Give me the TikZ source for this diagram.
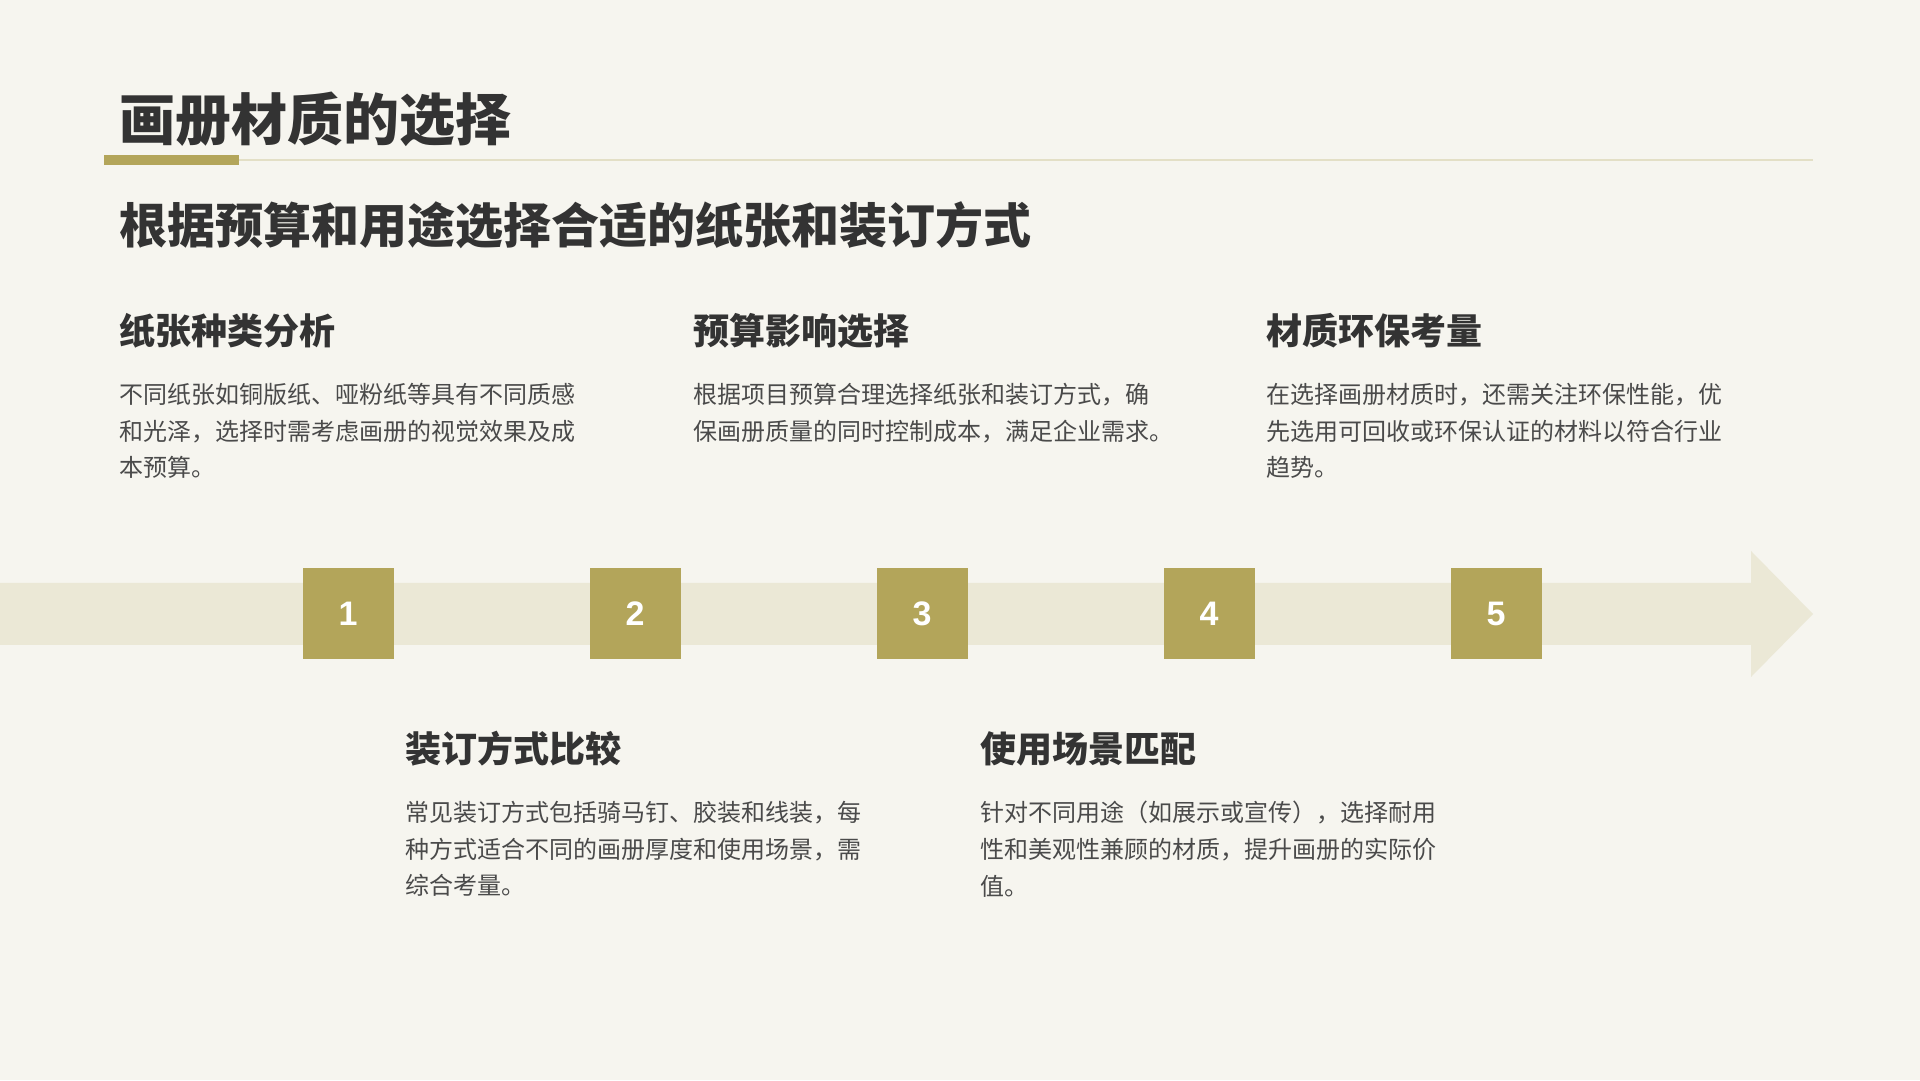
\documentclass[tikz,border=0pt]{standalone}
\usepackage{fontspec}
\usepackage{xcolor}
\usetikzlibrary{positioning}
\newfontfamily\cjk{Noto Sans CJK SC}
\newfontfamily\numfont{Liberation Sans}
\definecolor{bgcream}{HTML}{F6F5EF}
\definecolor{bandbeige}{HTML}{EBE8D6}
\definecolor{boxgold}{HTML}{B3A55A}
\definecolor{rulebeige}{HTML}{E3DFC6}
\definecolor{darktext}{HTML}{333333}
\definecolor{bodygray}{HTML}{4A4A4A}

\begin{document}
\begin{tikzpicture}[x=1pt, y=1pt, node distance=287pt, on grid,
    numbox/.style={rectangle, fill=boxgold, minimum size=91pt, inner sep=0pt, text=white, font=\numfont\bfseries\fontsize{34}{34}\selectfont},
    headtext/.style={anchor=west, inner sep=0pt, text=darktext, font=\cjk\bfseries\fontsize{36}{40}\selectfont},
    bodytext/.style={anchor=north west, inner sep=0pt, align=left, text=bodygray, font=\cjk\fontsize{24}{36.7}\selectfont}]

    \fill[bgcream] (0,0) rectangle (1920,1080);
    \useasboundingbox (0,0) rectangle (1920,1080);

    % title block
    \node[anchor=west, inner sep=0pt, text=darktext, font=\cjk\bfseries\fontsize{56}{60}\selectfont] (title) at (119,961) {画册材质的选择};
    \fill[boxgold] (104,915) rectangle (239,925);
    \draw[rulebeige, line width=1.5pt] (239,920) -- (1813,920);
    \node[anchor=west, inner sep=0pt, text=darktext, font=\cjk\bfseries\fontsize{48}{52}\selectfont] (subtitle) at (119,855) {根据预算和用途选择合适的纸张和装订方式};

    % timeline band
    \fill[bandbeige] (0,435) -- (1751,435) -- (1751,403) -- (1813,466) -- (1751,529) -- (1751,497) -- (0,497) -- cycle;

    \node[numbox] (n1) at (348,466) {1};
    \node[numbox, right=of n1] (n2) {2};
    \node[numbox, right=of n2] (n3) {3};
    \node[numbox, right=of n3] (n4) {4};
    \node[numbox, right=of n4] (n5) {5};

    % upper items
    \node[headtext] (head1) at (119,749) {纸张种类分析};
    \node[bodytext] (body1) at ([yshift=-52pt]head1.west) {不同纸张如铜版纸、哑粉纸等具有不同质感\\和光泽，选择时需考虑画册的视觉效果及成\\本预算。};

    \node[headtext] (head3) at (693,749) {预算影响选择};
    \node[bodytext] (body3) at ([yshift=-52pt]head3.west) {根据项目预算合理选择纸张和装订方式，确\\保画册质量的同时控制成本，满足企业需求。};

    \node[headtext] (head5) at (1266,749) {材质环保考量};
    \node[bodytext] (body5) at ([yshift=-52pt]head5.west) {在选择画册材质时，还需关注环保性能，优\\先选用可回收或环保认证的材料以符合行业\\趋势。};

    % lower items
    \node[headtext] (head2) at (405,331) {装订方式比较};
    \node[bodytext] (body2) at ([yshift=-52pt]head2.west) {常见装订方式包括骑马钉、胶装和线装，每\\种方式适合不同的画册厚度和使用场景，需\\综合考量。};

    \node[headtext] (head4) at (980,331) {使用场景匹配};
    \node[bodytext] (body4) at ([yshift=-52pt]head4.west) {针对不同用途（如展示或宣传），选择耐用\\性和美观性兼顾的材质，提升画册的实际价\\值。};

\end{tikzpicture}
\end{document}
